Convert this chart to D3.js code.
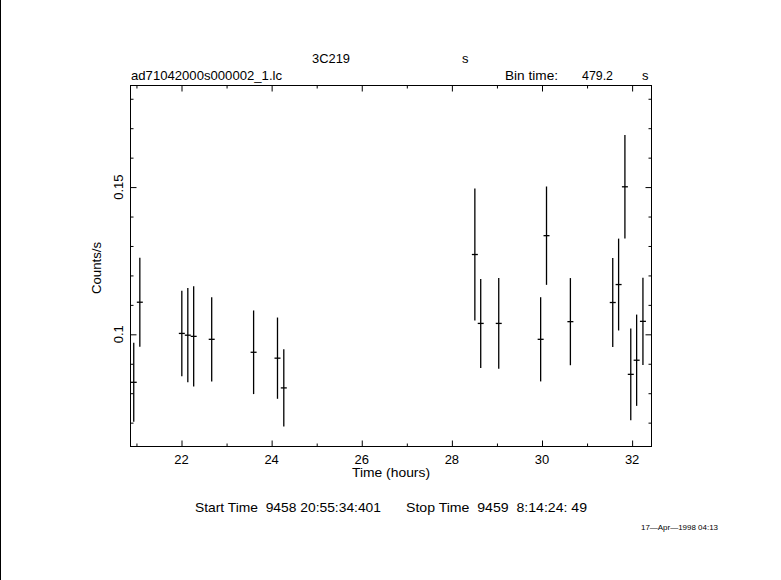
<!DOCTYPE html>
<html><head><meta charset="utf-8">
<script src="https://cdn.jsdelivr.net/npm/d3@7"></script>
<style>body{margin:0;background:#fff}svg{display:block}text{font-family:"Liberation Sans",Arial,sans-serif;fill:#000;white-space:pre}</style>
</head><body>
<script>
// Light curve: bin centre time (hours), count rate (counts/s), 1-sigma error
const times = [20.94, 21.075, 22.007, 22.14, 22.27, 22.67, 23.60, 24.13, 24.27,
               28.51, 28.64, 29.04, 29.97, 30.10, 30.63, 31.57, 31.70, 31.84, 31.97, 32.10, 32.24];
const rates = [0.0837, 0.1109, 0.1003, 0.0997, 0.0993, 0.0983, 0.0939, 0.0919, 0.0818,
               0.1271, 0.1037, 0.1037, 0.0983, 0.1335, 0.1043, 0.1108, 0.1169, 0.1501, 0.0864, 0.0912, 0.1044];
const errors = [0.0134, 0.0151, 0.0145, 0.0160, 0.0170, 0.0143, 0.0142, 0.0138, 0.0131,
                0.0224, 0.0151, 0.0154, 0.0143, 0.0167, 0.0148, 0.0151, 0.0156, 0.0176, 0.0156, 0.0155, 0.0148];
const binTime = 479.2; // seconds
const xMajorTicks = [22, 24, 26, 28, 30, 32];
const xMinorTicks = [21, 23, 25, 27, 29, 31];
const yMajorTicks = [0.1, 0.15];
const yMinorTicks = [0.07, 0.08, 0.09, 0.11, 0.12, 0.13, 0.14, 0.16, 0.17, 0.18];
const xDomain = [20.868, 32.43];
const yDomain = [0.0619, 0.1845];

const W = 781, H = 580;
const L = 130.5, R = 651.5, T = 85.5, B = 446.5;
const svg = d3.select("body").append("svg").attr("width", W).attr("height", H);
svg.append("rect").attr("width", W).attr("height", H).attr("fill", "#fff");
svg.append("line").attr("x1", 0.5).attr("x2", 0.5).attr("y1", 0).attr("y2", H).attr("stroke", "#000");

const x = d3.scaleLinear().domain(xDomain).range([L, R]);
const y = d3.scaleLinear().domain(yDomain).range([B, T]);

const g = svg.append("g").attr("stroke", "#000").attr("fill", "none").attr("stroke-width", 1);
g.append("rect").attr("x", L).attr("y", T).attr("width", R - L).attr("height", B - T);

// ticks via d3 axes (inward)
function ax(axisFn, scale, vals, size, tr) {
  const a = svg.append("g").attr("transform", tr)
    .call(axisFn(scale).tickValues(vals).tickSizeInner(size).tickSizeOuter(0).tickFormat(""));
  a.select(".domain").remove();
  a.selectAll("line").attr("stroke", "#000");
}
ax(d3.axisTop, x, xMajorTicks, 6, `translate(0,${B})`);
ax(d3.axisTop, x, xMinorTicks, 3, `translate(0,${B})`);
ax(d3.axisBottom, x, xMajorTicks, 6, `translate(0,${T})`);
ax(d3.axisBottom, x, xMinorTicks, 3, `translate(0,${T})`);
ax(d3.axisRight, y, yMajorTicks, 6, `translate(${L},0)`);
ax(d3.axisRight, y, yMinorTicks, 3, `translate(${L},0)`);
ax(d3.axisLeft, y, yMajorTicks, 6, `translate(${R},0)`);
ax(d3.axisLeft, y, yMinorTicks, 3, `translate(${R},0)`);

// tick labels
svg.append("g").selectAll("text").data(xMajorTicks).join("text")
  .attr("x", d => x(d)).attr("y", B + 17).attr("text-anchor", "middle")
  .attr("font-size", 13).text(d => d);
svg.append("g").selectAll("text").data(yMajorTicks).join("text")
  .attr("transform", d => `translate(${L - 8},${y(d)}) rotate(-90)`)
  .attr("text-anchor", "middle").attr("font-size", 13).text(d => d);

// data
const half = binTime / 3600 / 2;
const pts = svg.append("g").attr("stroke", "#000").attr("stroke-width", 1.3);
times.forEach((t, i) => {
  pts.append("line").attr("x1", x(t)).attr("x2", x(t))
    .attr("y1", y(rates[i] - errors[i])).attr("y2", y(Math.min(rates[i] + errors[i], yDomain[1])));
  pts.append("line").attr("x1", x(t - half)).attr("x2", x(t + half))
    .attr("y1", y(rates[i])).attr("y2", y(rates[i]));
});

// labels
function txt(s, xx, yy, len, size) {
  const t = svg.append("text").attr("x", xx).attr("y", yy)
    .attr("font-size", size || 13).text(s);
  if (len) t.attr("textLength", len).attr("lengthAdjust", "spacingAndGlyphs");
  return t;
}
txt("Time (hours)", 352, 477, 78);
svg.append("text").attr("transform", `translate(101,294) rotate(-90)`)
  .attr("font-size", 13).attr("textLength", 52).attr("lengthAdjust", "spacingAndGlyphs").text("Counts/s");
txt("3C219", 312, 63, 38);
txt("s", 462, 63);
txt("ad71042000s000002_1.lc", 131, 80, 151);
txt("Bin time:", 505, 80, 53);
txt("479.2", 582, 80, 31);
txt("s", 642, 80);
txt("Start Time  9458 20:55:34:401", 195, 512, 186);
txt("Stop Time  9459  8:14:24: 49", 406, 512, 181);
txt("17\u2014Apr\u20141998 04:13", 641, 530, 77, 8);
</script>
</body></html>
